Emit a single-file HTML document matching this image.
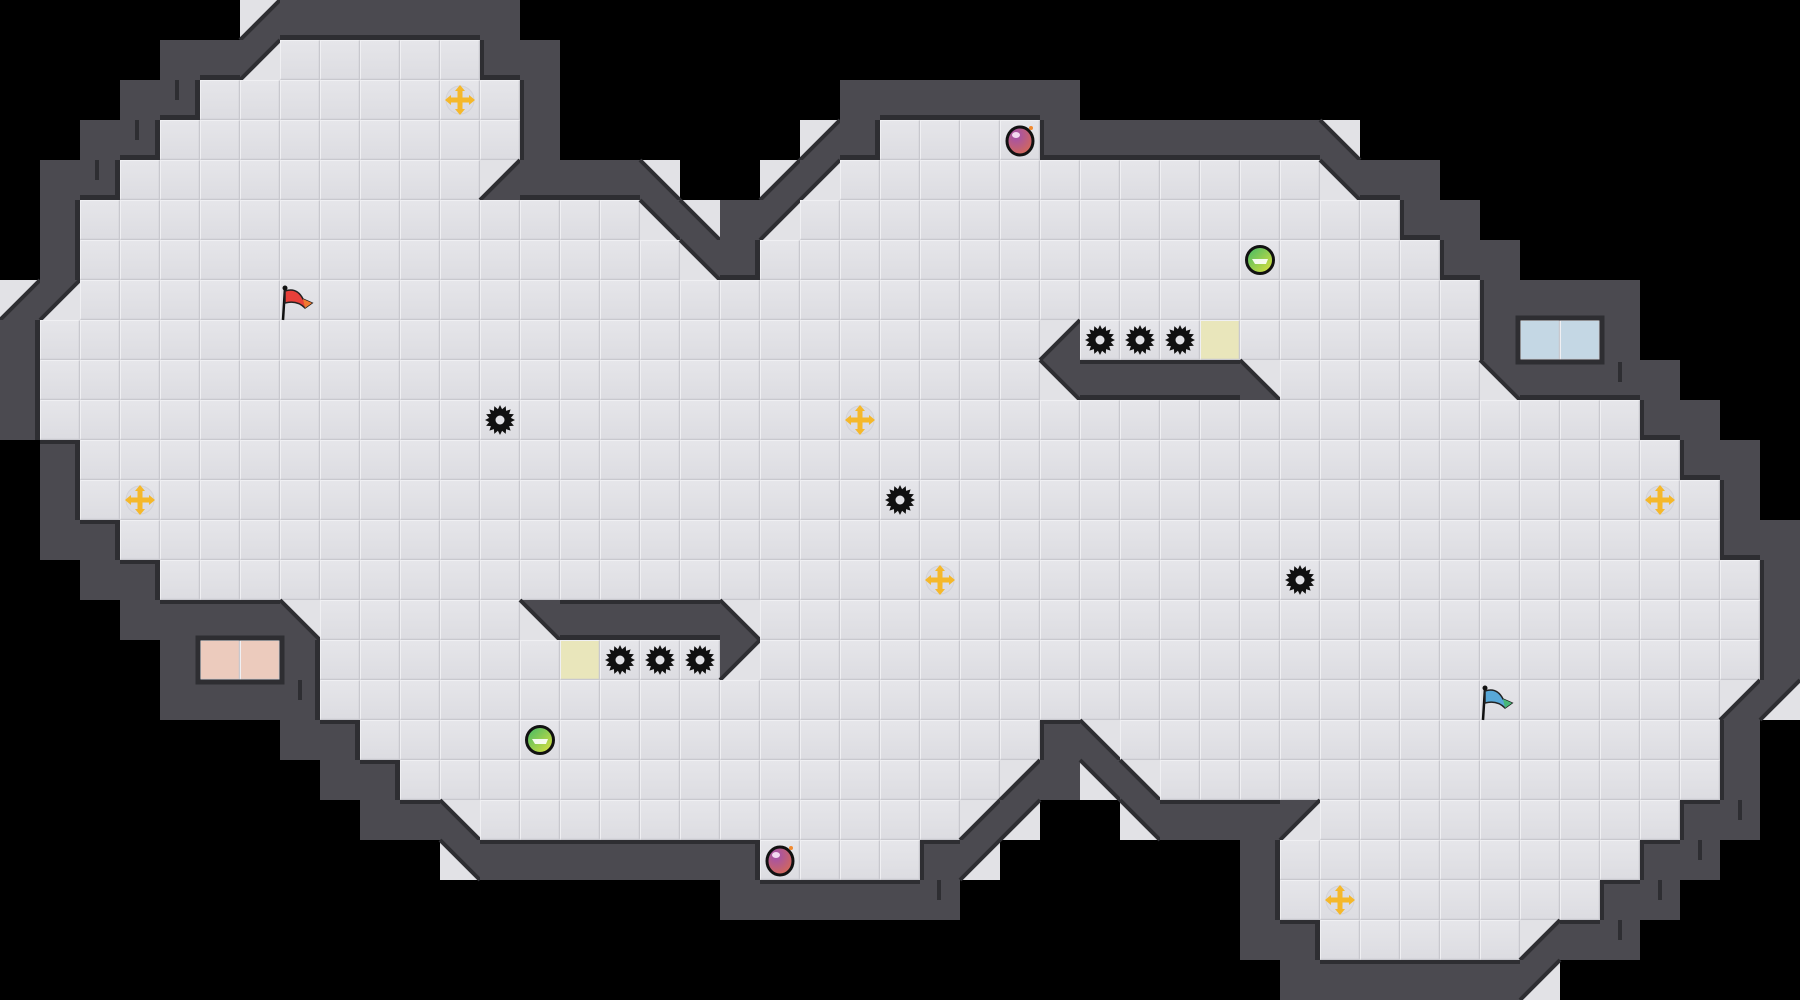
<!DOCTYPE html>
<html><head><meta charset="utf-8">
<style>html,body{margin:0;padding:0;background:#000;overflow:hidden}svg{display:block}</style>
</head><body>
<svg id="s" width="1800" height="1000" viewBox="0 0 1800 1000" xmlns="http://www.w3.org/2000/svg">
<defs>
<linearGradient id="tile" x1="0" y1="0" x2="0" y2="1"><stop offset="0" stop-color="#e6e6ea"/><stop offset="1" stop-color="#dcdce1"/></linearGradient>
<radialGradient id="bomb" cx="0.35" cy="0.3" r="0.8"><stop offset="0" stop-color="#a050b0"/><stop offset="1" stop-color="#d86a50"/></radialGradient>
<linearGradient id="orb" x1="0" y1="0" x2="1" y2="1"><stop offset="0" stop-color="#3cb868"/><stop offset="1" stop-color="#e6e23a"/></linearGradient>
</defs>
<rect width="1800" height="1000" fill="#000"/>
<g id="map"></g>
<g id="items"></g>
</svg>
<script>
var spec=[
"6a 7-12w",
"4-5w 6b 7-11f 12-13w",
"3-4w 5-12f 13w 21-26w",
"2-3w 4-12f 13w 20a 21w 22-25f 26-32w 33c",
"1-2w 3-11f 12a 13-15w 16c 19a 20b 21-32f 33d 34-35w",
"1w 2-15f 16d 17c 18w 19b 20-34f 35-36w",
"1w 2-16f 17d 18w 19-35f 36-37w",
"0a 1b 2-36f 37-40w",
"0w 1-25f 26a 27-29f 30Y 31-36f 37w 38-39B 40w",
"0w 1-25f 26d 27-30w 31c 32-36f 37d 38-41w",
"0w 1-40f 41-42w",
"1w 2-41f 42-43w",
"1w 2-42f 43w",
"1-2w 3-42f 43-44w",
"2-3w 4-43f 44w",
"3-6w 7c 8-12f 13d 14-17w 18c 19-43f 44w",
"4w 5-6P 7w 8-13f 14Y 15-17f 18b 19-43f 44w",
"4-7w 8-42f 43a 44b",
"7-8w 9-25f 26w 27c 28-42f 43w",
"8-9w 10-24f 25a 26w 27d 28c 29-42f 43w",
"9-10w 11c 12-23f 24a 25b 28d 29-31w 32b 33-41f 42-43w",
"11d 12-18w 19-22f 23w 24b 31w 32-40f 41-42w",
"18-23w 31w 32-39f 40-41w",
"31-32w 33-37f 38a 39-40w",
"32-37w 38b"];
var G=[];
for(var r=0;r<25;r++){var row=[];for(var c=0;c<45;c++)row.push('.');
 spec[r].split(' ').forEach(function(t){var m=t.match(/^(\d+)(?:-(\d+))?(\w)$/);var a=+m[1],b=m[2]?+m[2]:a;for(var c=a;c<=b;c++)row[c]=m[3];});G.push(row);}
var W='#4b4a50',L='#e2e2e6',D='#2e2e32';
var h=[];
function tri(p,col){h.push('<polygon points="'+p+'" fill="'+col+'"/>');}
function isF(r,c){if(r<0||r>24||c<0||c>44)return false;var t=G[r][c];return t=='f'||t=='Y';}
for(var r=0;r<25;r++)for(var c=0;c<45;c++){
 var t=G[r][c],x=c*40,y=r*40;
 if(t=='f'||t=='Y'||t=='P'||t=='B'){
  var fill=t=='f'?'url(#tile)':t=='Y'?'#e9e6bb':t=='P'?'#eccbbd':'#c4d7e4';
  h.push('<rect x="'+x+'" y="'+y+'" width="40" height="40" fill="'+fill+'"/>');
  h.push('<path d="M'+(x+0.5)+' '+(y+39.5)+'V'+(y+0.5)+'H'+(x+39.5)+'" stroke="#f0f0f3" stroke-width="1" fill="none"/>');
  h.push('<path d="M'+(x+0.5)+' '+(y+39.5)+'H'+(x+39.5)+'V'+(y+0.5)+'" stroke="#c8c8ce" stroke-width="1.5" fill="none"/>');
 } else if(t=='w'){
  h.push('<rect x="'+x+'" y="'+y+'" width="40" height="40" fill="'+W+'"/>');
 } else if(t=='a'||t=='b'){
  var ul=x+','+y+' '+(x+40)+','+y+' '+x+','+(y+40), lr=(x+40)+','+y+' '+(x+40)+','+(y+40)+' '+x+','+(y+40);
  tri(ul,t=='a'?L:W);tri(lr,t=='a'?W:L);
  h.push('<line x1="'+(x+40)+'" y1="'+y+'" x2="'+x+'" y2="'+(y+40)+'" stroke="'+D+'" stroke-width="4"/>');
 } else if(t=='c'||t=='d'){
  var ur=x+','+y+' '+(x+40)+','+y+' '+(x+40)+','+(y+40), ll=x+','+y+' '+(x+40)+','+(y+40)+' '+x+','+(y+40);
  tri(ur,t=='c'?L:W);tri(ll,t=='c'?W:L);
  h.push('<line x1="'+x+'" y1="'+y+'" x2="'+(x+40)+'" y2="'+(y+40)+'" stroke="'+D+'" stroke-width="4"/>');
 }
}
for(var r=0;r<25;r++)for(var c=0;c<45;c++){
 var t=G[r][c];if(t!='w')continue;var x=c*40,y=r*40;
 if(isF(r+1,c))h.push('<rect x="'+x+'" y="'+(y+35)+'" width="40" height="5" fill="'+D+'"/>');
 if(isF(r-1,c))h.push('<rect x="'+x+'" y="'+y+'" width="40" height="4" fill="'+D+'"/>');
 if(isF(r,c+1))h.push('<rect x="'+(x+35)+'" y="'+y+'" width="5" height="40" fill="'+D+'"/>');
 if(isF(r,c-1))h.push('<rect x="'+x+'" y="'+y+'" width="4" height="40" fill="'+D+'"/>');
}
h.push('<rect x="198" y="638" width="84" height="44" fill="none" stroke="'+D+'" stroke-width="5"/>');
h.push('<rect x="1518" y="318" width="84" height="44" fill="none" stroke="'+D+'" stroke-width="5"/>');
[[175,80,20],[135,120,20],[95,160,20],[298,680,20],[1618,362,20],[1738,800,20],[1698,840,20],[1658,880,20],[1618,920,20],[937,880,20]].forEach(function(s){h.push('<rect x="'+s[0]+'" y="'+s[1]+'" width="4" height="'+s[2]+'" fill="'+D+'"/>');});
document.getElementById('map').innerHTML=h.join('');

var it=[];
function saw(cx,cy){var p=[];for(var i=0;i<32;i++){var a=i*Math.PI/16,rr=(i%2?11:15);p.push((cx+rr*Math.cos(a)).toFixed(1)+','+(cy+rr*Math.sin(a)).toFixed(1));}
 it.push('<polygon points="'+p.join(' ')+'" fill="#111"/><circle cx="'+cx+'" cy="'+cy+'" r="4.5" fill="#e2e2e6"/>');}
function cross(cx,cy){it.push('<circle cx="'+cx+'" cy="'+cy+'" r="14" fill="#dcdce2" stroke="#d2d2d8"/>'+
 '<g fill="#f5b82a"><rect x="'+(cx-2.5)+'" y="'+(cy-11)+'" width="5" height="22"/><rect x="'+(cx-11)+'" y="'+(cy-2.5)+'" width="22" height="5"/>'+
 '<polygon points="'+cx+','+(cy-15)+' '+(cx-5)+','+(cy-9)+' '+(cx+5)+','+(cy-9)+'"/><polygon points="'+cx+','+(cy+15)+' '+(cx-5)+','+(cy+9)+' '+(cx+5)+','+(cy+9)+'"/>'+
 '<polygon points="'+(cx-15)+','+cy+' '+(cx-9)+','+(cy-5)+' '+(cx-9)+','+(cy+5)+'"/><polygon points="'+(cx+15)+','+cy+' '+(cx+9)+','+(cy-5)+' '+(cx+9)+','+(cy+5)+'"/></g>');}
function bomb(cx,cy){it.push('<ellipse cx="'+cx+'" cy="'+(cy+1)+'" rx="13" ry="14" fill="url(#bomb)" stroke="#111" stroke-width="3"/><ellipse cx="'+(cx-4)+'" cy="'+(cy-5)+'" rx="4" ry="3" fill="#f3d8f0"/><circle cx="'+(cx+11)+'" cy="'+(cy-12)+'" r="2" fill="#f08a30"/>');}
function orb(cx,cy){it.push('<circle cx="'+cx+'" cy="'+cy+'" r="13.5" fill="url(#orb)" stroke="#111" stroke-width="3"/><polygon points="'+(cx-8)+','+(cy-1)+' '+(cx+8)+','+(cy-1)+' '+(cx+6)+','+(cy+4)+' '+(cx-5)+','+(cy+4)+'" fill="#fff" opacity="0.9"/>');}
function flag(x,y,c1,c2){it.push('<line x1="'+(x+2)+'" y1="'+(y-14)+'" x2="'+x+'" y2="'+(y+18)+'" stroke="#111" stroke-width="2.5"/><circle cx="'+(x+2)+'" cy="'+(y-14)+'" r="2.5" fill="#111"/>'+
 '<path d="M'+(x+2)+' '+(y-11)+' Q'+(x+14)+' '+(y-15)+' '+(x+20)+' '+(y-3)+' L'+(x+29)+' '+(y+1)+' L'+(x+22)+' '+(y+6)+' Q'+(x+14)+' '+(y-2)+' '+(x+2)+' '+(y+1)+'Z" fill="'+c1+'" stroke="#222" stroke-width="1.5"/>'+
 '<path d="M'+(x+20)+' '+(y-3)+' L'+(x+29)+' '+(y+1)+' L'+(x+22)+' '+(y+6)+'Z" fill="'+c2+'"/>');}
[[11,2],[3,12],[21,10],[23,14],[41,12],[33,22]].forEach(function(p){cross(p[0]*40+20,p[1]*40+20);});
[[12,10],[22,12],[32,14],[27,8],[28,8],[29,8],[15,16],[16,16],[17,16]].forEach(function(p){saw(p[0]*40+20,p[1]*40+20);});
bomb(1020,140);bomb(780,860);
orb(1260,260);orb(540,740);
flag(283,302,'#e8403a','#f07a30');flag(1483,702,'#58a8d8','#48b878');
document.getElementById('items').innerHTML=it.join('');
</script>
</body></html>
